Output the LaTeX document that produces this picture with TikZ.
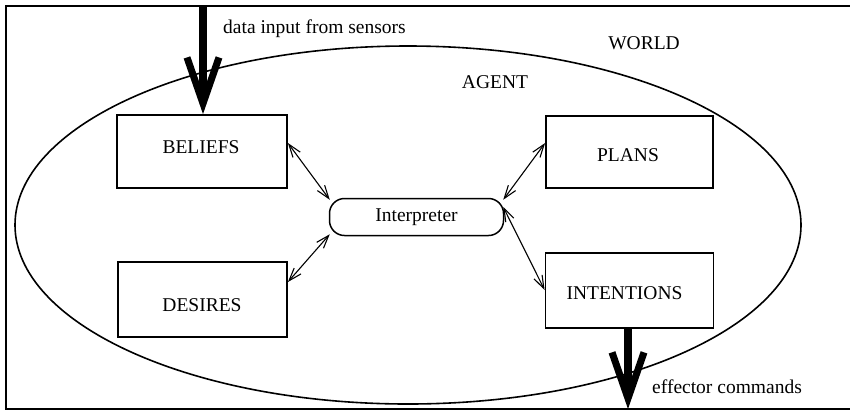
\documentclass[tikz,border=0pt]{standalone}
\usepackage{fontspec}
\setmainfont{Liberation Serif}
\usetikzlibrary{arrows.meta,calc}

\tikzset{
  lbl/.style={font=\fontsize{19.5}{22}\selectfont, inner sep=0pt},
  partbox/.style={draw, line width=1.8pt, minimum width=168pt, minimum height=73pt, inner sep=0pt},
  link/.style={line width=1.1pt, {Straight Barb[length=13pt,width=9pt]}-{Straight Barb[length=13pt,width=9pt]}},
  bigflow/.style={line width=8.5pt, -{Straight Barb[length=46pt,width=32pt,line width=7pt]}}
}

\begin{document}
\begin{tikzpicture}[x=1pt,y=-1pt]
\useasboundingbox (0,0) rectangle (850,413);

% frame of the world
\draw[line width=2.6pt] (850,6) -- (6,6) -- (6,409) -- (850,409);

% the agent
\draw[line width=1.6pt] (408,225) ellipse [x radius=393, y radius=179];

\node[lbl] (world) at (644,43) {WORLD};
\node[lbl] (agent) at (495,82) {AGENT};

% components
\node[partbox, minimum width=170pt, minimum height=73pt] (bel) at (202,151.5) {};
\node[lbl] at (201,147) {BELIEFS};
\node[partbox, minimum width=169pt, minimum height=75pt] (des) at (202.5,299.5) {};
\node[lbl] at (202,305) {DESIRES};
\node[partbox, minimum width=167pt, minimum height=72pt] (pla) at (629.5,152) {};
\node[lbl] at (628,155) {PLANS};
\node[partbox, minimum width=168pt, minimum height=75pt] (int) at (629.5,290.5) {};
\node[lbl] at (624.5,293) {INTENTIONS};

\node[draw, line width=1.5pt, rounded corners=15pt, minimum width=174pt, minimum height=37pt,
      inner sep=0pt, font=\fontsize{19.5}{22}\selectfont] (interp) at (416.5,217) {Interpreter};

% links to the interpreter
\draw[link] ([yshift=8.5pt]bel.east) -- ([shift={(1pt,-2pt)}]interp.north west);
\draw[link] ([yshift=17.5pt]des.west -| des.east) -- ([shift={(1pt,2pt)}]interp.south west);
\draw[link] ([yshift=9pt]pla.west) -- ([shift={(-1pt,-2pt)}]interp.north east);
\draw[link] ([yshift=0.5pt]int.west) -- ([shift={(-1pt,10pt)}]interp.east);

% sensor input and effector output
\coordinate (sensors) at (203,6);
\coordinate (effector) at (628,409);
\draw[bigflow] (sensors) -- (sensors |- bel.north);
\node[lbl, anchor=west] at (223,29) {data input from sensors};
\draw[bigflow] (effector |- int.south) -- (effector);
\node[lbl, anchor=west] at (652,387) {effector commands};
\end{tikzpicture}
\end{document}
